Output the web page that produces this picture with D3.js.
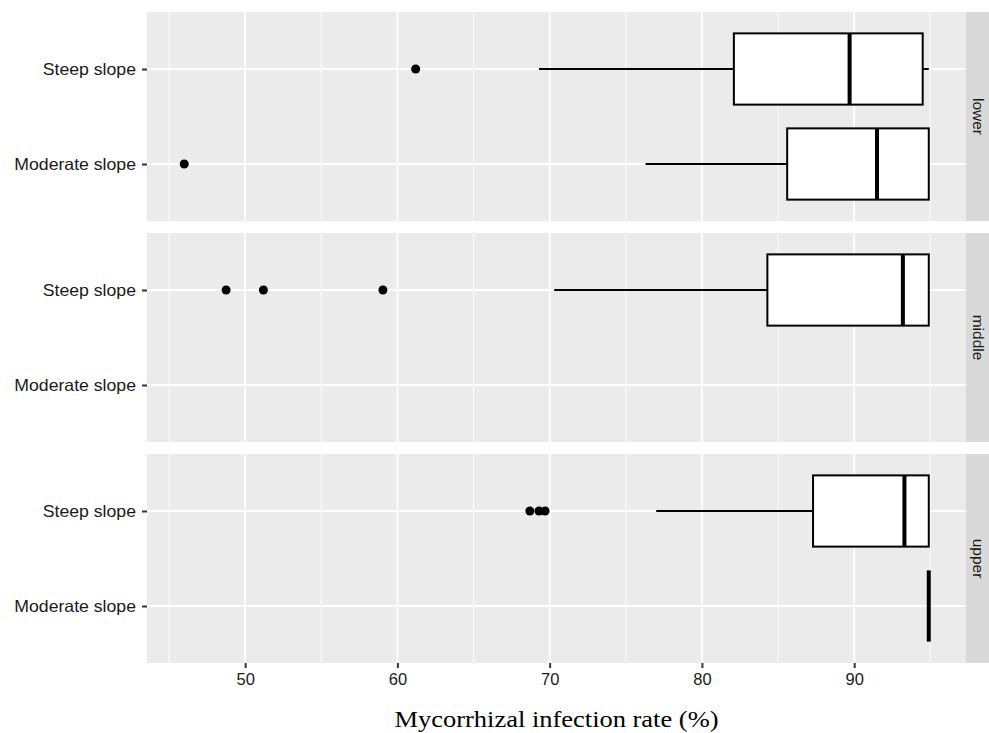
<!DOCTYPE html>
<html>
<head>
<meta charset="utf-8">
<script src="https://cdn.jsdelivr.net/npm/d3@7"></script>
<style>
  body { margin: 0; background: #fff; }
  svg { display: block; }
</style>
</head>
<body>
<svg id="chart" width="989" height="733"></svg>
<script>
// ---------- data ----------
const panels = ["lower", "middle", "upper"];
const categories = ["Moderate slope", "Steep slope"];   // bottom to top
const xTicks = [50, 60, 70, 80, 90];
const xMinor = [45, 55, 65, 75, 85, 95];
// box statistics per panel: [whiskerLow, q1, median, q3, whiskerHigh]
const lowerStats   = { "Steep slope": [69.3, 82.1, 89.7, 94.5, 94.9], "Moderate slope": [76.3, 85.6, 91.5, 94.9, 94.9] };
const middleStats  = { "Steep slope": [70.3, 84.3, 93.2, 94.9, 94.9] };
const upperStats   = { "Steep slope": [77.0, 87.3, 93.3, 94.9, 94.9], "Moderate slope": [94.9, 94.9, 94.9, 94.9, 94.9] };
const lowerOutliers  = { "Steep slope": [61.2], "Moderate slope": [46.0] };
const middleOutliers = { "Steep slope": [48.75, 51.2, 59.05] };
const upperOutliers  = { "Steep slope": [68.7, 69.3, 69.7] };
const xTitle = "Mycorrhizal infection rate (%)";

const statsByPanel = { lower: lowerStats, middle: middleStats, upper: upperStats };
const outByPanel = { lower: lowerOutliers, middle: middleOutliers, upper: upperOutliers };

// ---------- layout ----------
const svg = d3.select("#chart");
const left = 147, right = 966, stripW = 23;
const panelTops = [12, 233, 454];
const panelH = 209;
const sans = "Liberation Sans, Arial, sans-serif";

function stretch(sel, k) {
  sel.each(function () {
    const L = this.getComputedTextLength();
    d3.select(this).attr("textLength", L * k).attr("lengthAdjust", "spacingAndGlyphs");
  });
}

// x domain with ggplot-like 5% expansion
const allVals = [];
panels.forEach(p => {
  Object.values(statsByPanel[p]).forEach(s => allVals.push(...s));
  Object.values(outByPanel[p]).forEach(o => allVals.push(...o));
});
const [dmin, dmax] = d3.extent(allVals);
const pad = (dmax - dmin) * 0.05;
const x = d3.scaleLinear().domain([dmin - pad, dmax + pad]).range([left, right]);

panels.forEach((p, i) => {
  const top = panelTops[i];
  const g = svg.append("g");
  // discrete y with 0.6 expansion
  const y = d3.scaleLinear().domain([2.6, 0.4]).range([top, top + panelH]);
  const yPos = c => y(categories.indexOf(c) + 1);
  const unit = Math.abs(y(1) - y(2));

  g.append("rect").attr("x", left).attr("y", top).attr("width", right - left).attr("height", panelH)
    .attr("fill", "#ebebeb");

  // minor grid
  g.selectAll(".minor").data(xMinor.filter(v => x(v) > left && x(v) < right)).join("line")
    .attr("x1", d => x(d)).attr("x2", d => x(d)).attr("y1", top).attr("y2", top + panelH)
    .attr("stroke", "#fff").attr("stroke-width", 0.9);
  // major grid
  g.selectAll(".major").data(xTicks).join("line")
    .attr("x1", d => x(d)).attr("x2", d => x(d)).attr("y1", top).attr("y2", top + panelH)
    .attr("stroke", "#fff").attr("stroke-width", 1.8);
  g.selectAll(".hmajor").data(categories).join("line")
    .attr("x1", left).attr("x2", right).attr("y1", d => yPos(d)).attr("y2", d => yPos(d))
    .attr("stroke", "#fff").attr("stroke-width", 1.8);

  // y axis
  const yAxis = g.append("g").attr("transform", `translate(${left},0)`)
    .call(d3.axisLeft(d3.scalePoint().domain(categories.slice().reverse()).range([yPos("Steep slope"), yPos("Moderate slope")]))
      .tickSize(5).tickPadding(6));
  yAxis.select(".domain").remove();
  yAxis.selectAll(".tick line").attr("stroke", "#333").attr("stroke-width", 2);
  yAxis.selectAll(".tick text").attr("fill", "#1a1a1a").attr("font-family", sans)
    .attr("font-size", 16.5).call(stretch, 1.07);

  // boxes
  const stats = statsByPanel[p];
  Object.keys(stats).forEach(c => {
    const [wl, q1, md, q3, wh] = stats[c];
    const cy = yPos(c);
    const bh = unit * 0.75;
    g.append("line").attr("x1", x(wl)).attr("x2", x(q1)).attr("y1", cy).attr("y2", cy)
      .attr("stroke", "#000").attr("stroke-width", 2);
    g.append("line").attr("x1", x(q3)).attr("x2", x(wh)).attr("y1", cy).attr("y2", cy)
      .attr("stroke", "#000").attr("stroke-width", 2);
    g.append("rect").attr("x", x(q1)).attr("y", cy - bh / 2).attr("width", Math.max(0, x(q3) - x(q1))).attr("height", bh)
      .attr("fill", "#fff").attr("stroke", "#000").attr("stroke-width", 2);
    g.append("line").attr("x1", x(md)).attr("x2", x(md)).attr("y1", cy - bh / 2).attr("y2", cy + bh / 2)
      .attr("stroke", "#000").attr("stroke-width", 4);
  });
  // outliers
  const outs = outByPanel[p];
  Object.keys(outs).forEach(c => {
    g.selectAll(null).data(outs[c]).join("circle")
      .attr("cx", d => x(d)).attr("cy", yPos(c)).attr("r", 4.5).attr("fill", "#000");
  });

  // strip
  g.append("rect").attr("x", right).attr("y", top).attr("width", stripW).attr("height", panelH)
    .attr("fill", "#d9d9d9");
  g.append("text").attr("transform", `translate(${right + stripW / 2 + 1},${top + panelH / 2}) rotate(90)`)
    .attr("text-anchor", "middle").attr("dominant-baseline", "central")
    .attr("font-family", sans).attr("font-size", 15.5).attr("fill", "#1a1a1a")
    .text(p);
});

// x axis
const bottom = panelTops[2] + panelH;
const xAxis = svg.append("g").attr("transform", `translate(0,${bottom})`)
  .call(d3.axisBottom(x).tickValues(xTicks).tickSize(5).tickPadding(5));
xAxis.select(".domain").remove();
xAxis.selectAll(".tick line").attr("stroke", "#333").attr("stroke-width", 2);
xAxis.selectAll(".tick text").attr("fill", "#1a1a1a").attr("font-family", sans)
  .attr("font-size", 16.5);

const title = svg.append("text").attr("x", (left + right) / 2).attr("y", 727)
  .attr("text-anchor", "middle").attr("font-family", "Liberation Serif, Times New Roman, serif")
  .attr("font-size", 23.5).attr("fill", "#000").text(xTitle);
title.attr("textLength", 324).attr("lengthAdjust", "spacingAndGlyphs");
</script>
</body>
</html>
